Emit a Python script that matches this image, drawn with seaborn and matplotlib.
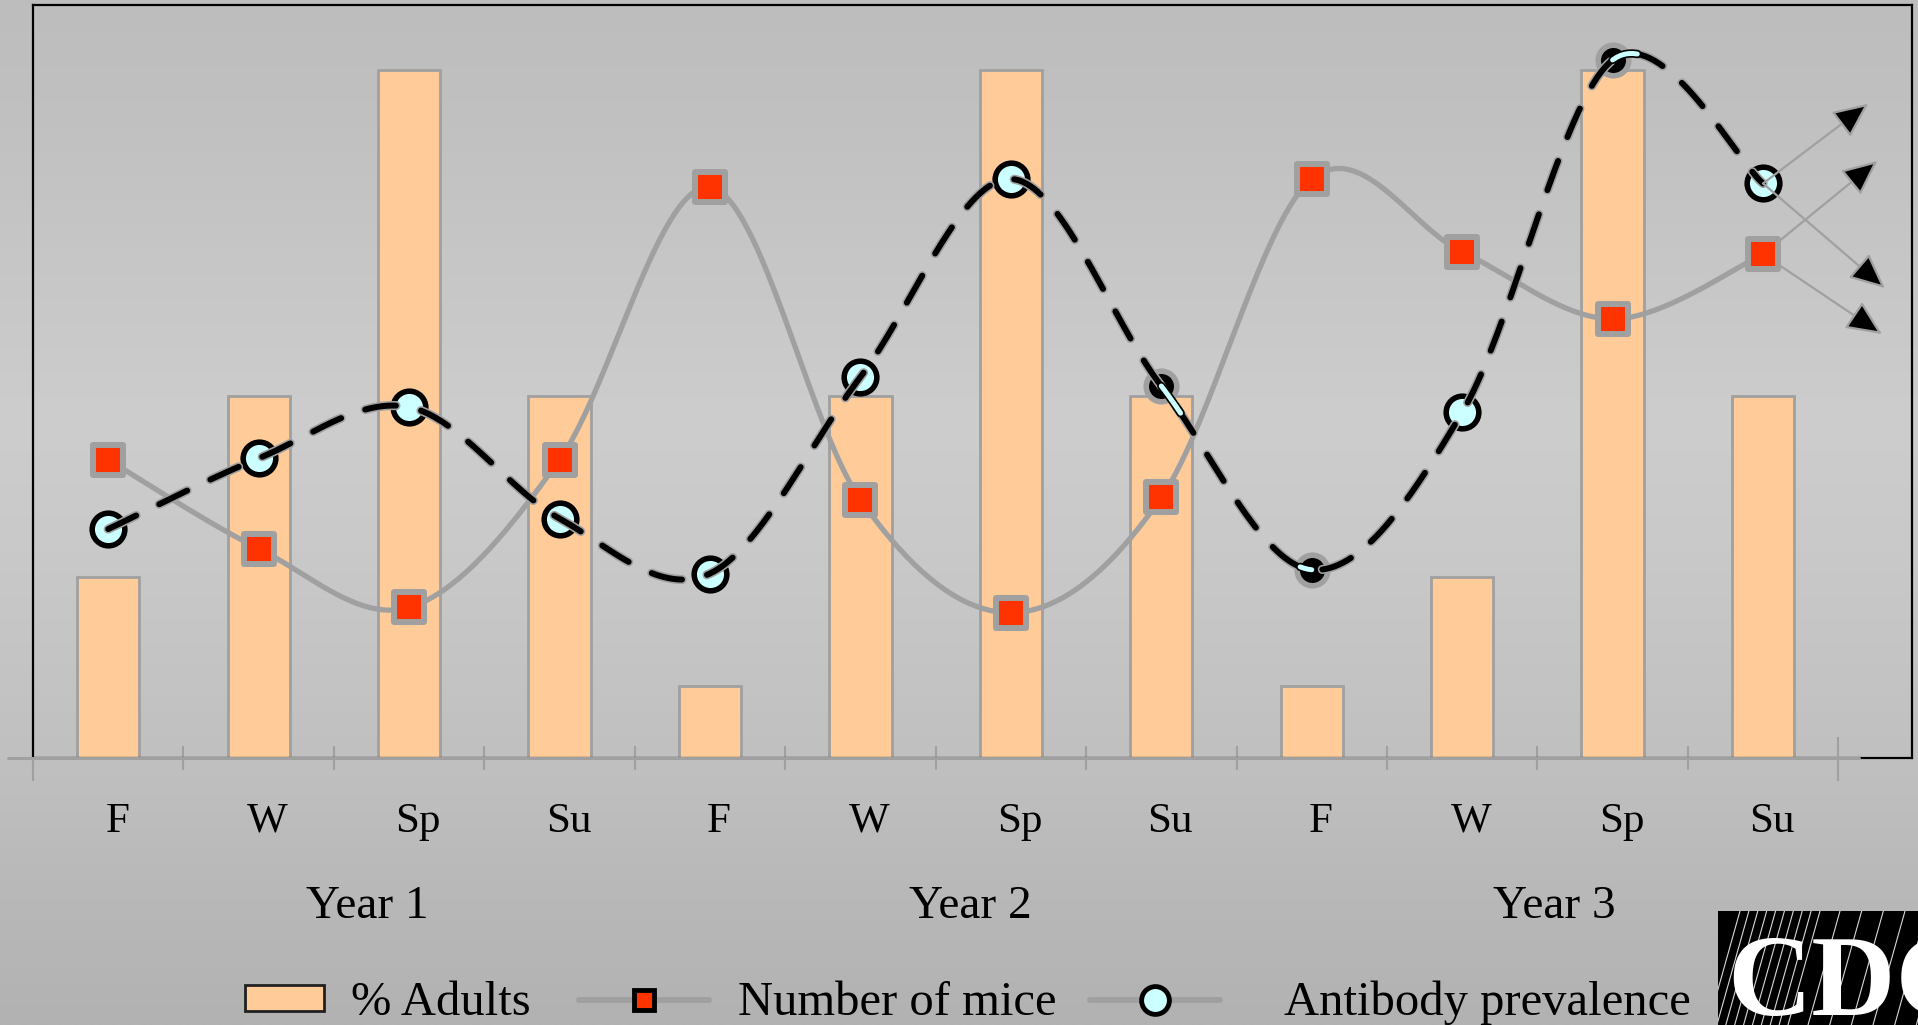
import numpy as np
import pandas as pd
import matplotlib
matplotlib.use("Agg")
import matplotlib.pyplot as plt
import matplotlib.patheffects as pe
import matplotlib.transforms as mtrans
from matplotlib.lines import Line2D
from matplotlib.patches import Patch, Rectangle
import seaborn as sns

# ---- data -------------------------------------------------------------
seasons = ["F", "W", "Sp", "Su", "F", "W", "Sp", "Su", "F", "W", "Sp", "Su"]
years = ["Year 1", "Year 2", "Year 3"]
pct_adults = [24.0, 48.1, 91.4, 48.1, 9.6, 48.1, 91.4, 48.1, 9.6, 24.0, 91.4, 48.1]
num_mice = [39.6, 27.8, 20.0, 39.6, 75.8, 34.3, 19.3, 34.6, 76.9, 67.2, 58.3, 66.9]
antibody = [30.4, 39.8, 46.6, 31.8, 24.5, 50.6, 76.9, 49.4, 25.0, 45.9, 92.7, 76.3]

# ---- layout / style ---------------------------------------------------
year_label_x = [1.72, 5.73, 9.61]
label_shift = 0.06                  # season labels sit a touch right of centre
dark_markers = [7, 8, 10]           # circles drawn dark in the series
# short light strokes on the dark circles: (segment, t_start, t_end)
dark_strokes = [(7, 0.0, 0.12), (7, 0.92, 1.0), (10, 0.0, 0.15)]
# trend arrows (dx, dy) from the last point of each series
mice_arrows = [(0.76, 12.4), (0.79, -10.6)]
antibody_arrows = [(0.70, 10.6), (0.81, -13.9)]

PEACH = "#FFCC99"
GREY = "#A0A0A0"
RED = "#FF3300"
CYAN = "#CCFFFF"

W, H, DPI = 1918, 1025, 100
NSEG = 40

sns.set_theme(style="white")
plt.rcParams["font.family"] = ["Liberation Serif", "DejaVu Serif"]

df = pd.DataFrame({
    "pos": np.arange(len(seasons)),
    "season": seasons,
    "adults": pct_adults,
    "mice": num_mice,
    "antibody": antibody,
})


def smooth(x, y, n=NSEG):
    """Catmull-Rom curve through the points (x, y), n samples per segment."""
    x = np.asarray(x, float)
    y = np.asarray(y, float)
    px = np.r_[x[0], x, x[-1]]
    py = np.r_[y[0], y, y[-1]]
    t = np.linspace(0, 1, n)[:, None]
    xs, ys = [], []
    for i in range(len(x) - 1):
        for p, out in ((px, xs), (py, ys)):
            p0, p1, p2, p3 = p[i], p[i + 1], p[i + 2], p[i + 3]
            seg = 0.5 * (2 * p1 + (-p0 + p2) * t
                         + (2 * p0 - 5 * p1 + 4 * p2 - p3) * t ** 2
                         + (-p0 + 3 * p1 - 3 * p2 + p3) * t ** 3)
            out.append(seg.ravel() if i == 0 else seg.ravel()[1:])
    return np.concatenate(xs), np.concatenate(ys)


fig = plt.figure(figsize=(W / DPI, H / DPI), dpi=DPI)

# vertical grey gradient behind everything
bg = fig.add_axes([0, 0, 1, 1], zorder=-10)
stop_y = np.array([0, 100, 300, 420, 550, 760, 900, 1025]) / H
stop_v = np.array([189, 192, 200, 205, 201, 192, 184, 178]) / 255
rows = np.interp(np.linspace(0, 1, 600), stop_y, stop_v)
grad = np.dstack([np.repeat(rows[:, None], 2, axis=1)] * 3)
bg.imshow(grad, aspect="auto", extent=[0, 1, 0, 1], origin="upper",
          interpolation="bilinear")
bg.set_axis_off()

ax = fig.add_axes([33 / W, 1 - 758 / H, (1912 - 33) / W, (758 - 5) / H])
ax.set_facecolor("none")

# bars: % adults
sns.barplot(data=df, x="pos", y="adults", native_scale=True, width=0.414,
            color=PEACH, saturation=1, edgecolor=GREY, linewidth=2,
            errorbar=None, ax=ax, zorder=2)

# number of mice: smooth grey line with red squares
mx, my = smooth(df["pos"], df["mice"])
ax.plot(mx, my, color=GREY, lw=3.8, solid_capstyle="round", zorder=3)
sns.scatterplot(data=df, x="pos", y="mice", marker="s", s=21.6 ** 2,
                color=RED, edgecolor=GREY, linewidth=4.3, ax=ax, zorder=7,
                legend=False)

# antibody prevalence: circles and dashed black line
light = ~df.index.isin(dark_markers)
sns.scatterplot(data=df[light], x="pos", y="antibody", marker="o",
                s=23.5 ** 2, color=CYAN, edgecolor="black", linewidth=4.0,
                ax=ax, zorder=4, legend=False)
sns.scatterplot(data=df[~light], x="pos", y="antibody", marker="o",
                s=22 ** 2, color="black", edgecolor=GREY, linewidth=4.0,
                ax=ax, zorder=4, legend=False)
ax_x, ax_y = smooth(df["pos"], df["antibody"])
ax.plot(ax_x, ax_y, color="black", lw=4.3, dashes=(5.2, 4.3),
        dash_capstyle="round", zorder=5,
        path_effects=[pe.Stroke(linewidth=6.6, foreground=GREY), pe.Normal()])
for seg, t0, t1 in dark_strokes:
    i0 = seg * (NSEG - 1) + int(round(t0 * (NSEG - 1)))
    i1 = seg * (NSEG - 1) + int(round(t1 * (NSEG - 1)))
    ax.plot(ax_x[i0:i1 + 1], ax_y[i0:i1 + 1], color=CYAN, lw=3.6,
            solid_capstyle="round", zorder=5.5,
            path_effects=[pe.Stroke(linewidth=6.0, foreground="black",
                                    capstyle="round"), pe.Normal()])

# trend arrows off the last season
arrow_kw = dict(arrowstyle="-|>,head_length=1.1,head_width=0.5",
                mutation_scale=20, fc="black", ec=GREY, lw=1.6,
                shrinkA=0, shrinkB=0, zorder=6)
for col, arrows in (("mice", mice_arrows), ("antibody", antibody_arrows)):
    x0, y0 = df["pos"].iloc[-1], df[col].iloc[-1]
    for dx, dy in arrows:
        ax.annotate("", xy=(x0 + dx, y0 + dy), xytext=(x0, y0),
                    arrowprops=arrow_kw, annotation_clip=False, zorder=6)

# axes, ticks and frame
ax.set_xlim(-0.5, 11.99)
ax.set_ylim(0, 100)
ax.set_xlabel("")
ax.set_ylabel("")
ax.set_yticks([])
ax.set_xticks(df["pos"] + label_shift)
ax.set_xticklabels(seasons, fontsize=31, color="black")
ax.set_xticks(np.arange(-0.5, 12, 1), minor=True)
ax.tick_params(axis="x", which="major", length=0, pad=32, bottom=True)
ax.tick_params(axis="x", which="minor", direction="inout", length=17,
               width=1.5, color=GREY, bottom=True)
for sp in ax.spines.values():
    sp.set_visible(True)
    sp.set_color("black")
    sp.set_linewidth(1.6)

ax.plot([-0.666, 11.64], [0, 0], color=GREY, lw=2.2, clip_on=False, zorder=6)
blend = mtrans.blended_transform_factory(ax.transData, ax.transAxes)
ax.vlines([-0.5], -0.0305, 0.0, transform=blend, colors=GREY, lw=1.5,
          clip_on=False, zorder=6)
ax.vlines([11.5], -0.0305, 0.0279, transform=blend, colors=GREY, lw=1.5,
          clip_on=False, zorder=6)

# year labels under the seasons
yblend = mtrans.blended_transform_factory(ax.transData, fig.transFigure)
for xpos, label in zip(year_label_x, years):
    ax.text(xpos, 1 - 918 / H, label, transform=yblend, ha="center",
            va="baseline", fontsize=34, color="black")

# legend entries
leg_kw = dict(frameon=False, loc="center left", borderpad=0,
              borderaxespad=0, fontsize=35, handleheight=0.45,
              labelcolor="black")
leg_y = 1 - 1003 / H
h_adults = Patch(facecolor=PEACH, edgecolor="#202020", linewidth=2)
fig.legend([h_adults], ["% Adults"], bbox_to_anchor=(245 / W, leg_y),
           handlelength=1.63, handletextpad=0.56, **leg_kw)
h_mice = Line2D([], [], color=GREY, lw=4.3, marker="s", ms=14,
                mfc=RED, mec="black", mew=3.5)
fig.legend([h_mice], ["Number of mice"], bbox_to_anchor=(579 / W, leg_y),
           handlelength=2.67, handletextpad=0.6, **leg_kw)
h_ab = Line2D([], [], color=GREY, lw=4.3, marker="o", ms=20,
              mfc=CYAN, mec="black", mew=3.5)
fig.legend([h_ab], ["Antibody prevalence"], bbox_to_anchor=(1090 / W, leg_y),
           handlelength=2.67, handletextpad=1.32, **leg_kw)

# CDC logo in the corner
logo = fig.add_axes([1718 / W, 0, 1 - 1718 / W, (1025 - 911) / H])
logo.set_xlim(0, 1)
logo.set_ylim(0, 1)
logo.set_axis_off()
logo.add_patch(Rectangle((0, 0), 1, 1, facecolor="black", edgecolor="none",
                         transform=logo.transAxes, clip_on=False))
for x0 in np.r_[np.linspace(-0.05, 0.35, 10), np.linspace(0.45, 1.1, 7)]:
    logo.plot([x0, x0 + 0.16], [0, 1], color="white", lw=0.8, alpha=0.85)
logo.text(0.045, 0.088, "CDC", color="white", fontsize=84,
          fontweight="bold", ha="left", va="baseline", clip_on=True)

fig.savefig("out.png", dpi=DPI)
